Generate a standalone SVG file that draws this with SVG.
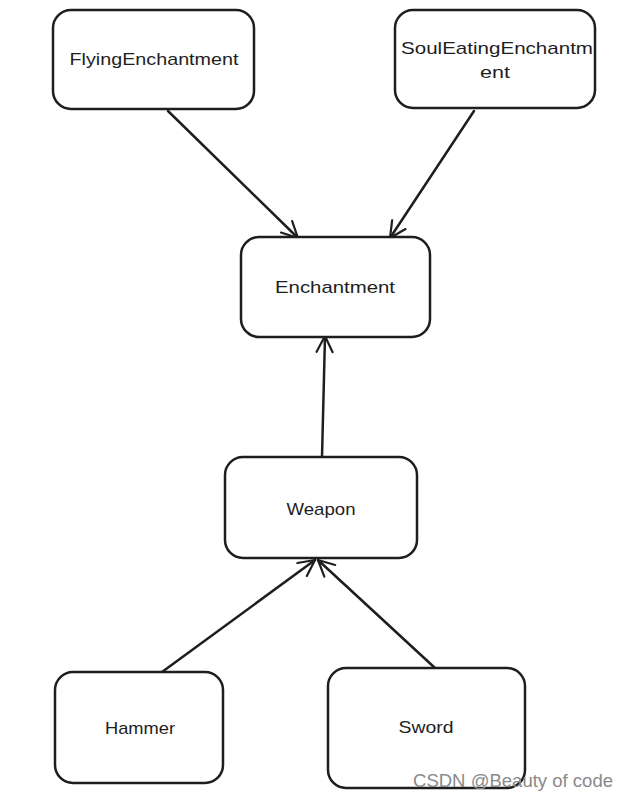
<svg xmlns="http://www.w3.org/2000/svg" width="629" height="801" viewBox="0 0 629 801">
<style>
.box{fill:#fff;stroke:#1e1e1e;stroke-width:2.5}
.lbl{font-family:"Liberation Sans",Arial,sans-serif;font-size:17px;fill:#1e1e1e;text-anchor:middle}
.edge{fill:none;stroke:#1e1e1e;stroke-width:2.5;stroke-linecap:round}
.wm{font-family:"Liberation Sans",Arial,sans-serif;font-size:18.5px;fill:#8a8a8a}
</style>
<defs>
<marker id="arr" viewBox="0 0 20 20" refX="18" refY="10" markerWidth="20" markerHeight="20" markerUnits="userSpaceOnUse" orient="auto">
<path d="M2,2 L18,10 L2,18" fill="none" stroke="#1e1e1e" stroke-width="2.2" stroke-linecap="round" stroke-linejoin="round"/>
</marker>
</defs>
<rect width="629" height="801" fill="#fff"/>
<g id="edges">
<line class="edge" x1="168" y1="111" x2="298" y2="238" marker-end="url(#arr)"/>
<line class="edge" x1="474" y1="111" x2="390" y2="238" marker-end="url(#arr)"/>
<line class="edge" x1="322" y1="457" x2="325" y2="336" marker-end="url(#arr)"/>
<line class="edge" x1="162" y1="672" x2="315" y2="560" marker-end="url(#arr)"/>
<line class="edge" x1="435" y1="668" x2="318" y2="560" marker-end="url(#arr)"/>
</g>
<g id="flying">
<rect class="box" x="53" y="10" width="201" height="99" rx="18"/>
<text class="lbl" x="154" y="65" textLength="169" lengthAdjust="spacingAndGlyphs">FlyingEnchantment</text>
</g>
<g id="souleating">
<rect class="box" x="395" y="10" width="200" height="98" rx="18"/>
<text class="lbl" x="497" y="54" textLength="192" lengthAdjust="spacingAndGlyphs">SoulEatingEnchantm</text>
<text class="lbl" x="495" y="78" textLength="30" lengthAdjust="spacingAndGlyphs">ent</text>
</g>
<g id="enchantment">
<rect class="box" x="241" y="237" width="189" height="100" rx="18"/>
<text class="lbl" x="335" y="293" textLength="120" lengthAdjust="spacingAndGlyphs">Enchantment</text>
</g>
<g id="weapon">
<rect class="box" x="225" y="457" width="192" height="101" rx="18"/>
<text class="lbl" x="321" y="515" textLength="69" lengthAdjust="spacingAndGlyphs">Weapon</text>
</g>
<g id="hammer">
<rect class="box" x="55" y="672" width="168" height="111" rx="18"/>
<text class="lbl" x="140" y="734" textLength="70" lengthAdjust="spacingAndGlyphs">Hammer</text>
</g>
<g id="sword">
<rect class="box" x="328" y="668" width="197" height="120" rx="18"/>
<text class="lbl" x="426" y="733" textLength="55" lengthAdjust="spacingAndGlyphs">Sword</text>
</g>
<text class="wm" x="413" y="787" textLength="200" lengthAdjust="spacingAndGlyphs">CSDN @Beauty of code</text>
</svg>
